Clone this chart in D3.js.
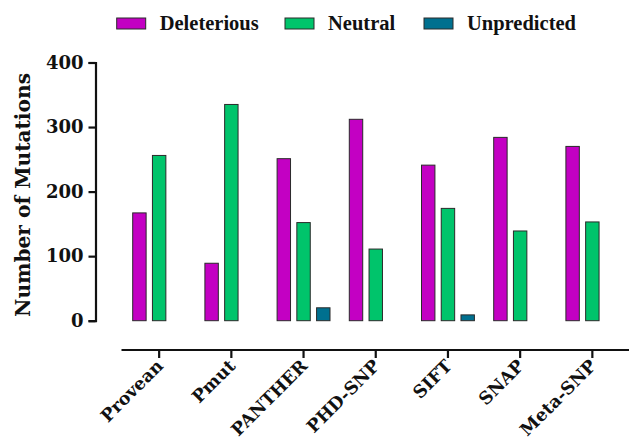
<!DOCTYPE html>
<html>
<head>
<meta charset="utf-8">
<script src="https://cdn.jsdelivr.net/npm/d3@7"></script>
<style>
  body { margin: 0; background: #fff; }
  svg text { font-family: "DejaVu Serif", serif; font-weight: bold; fill: #111; }
</style>
</head>
<body>
<div id="chart"></div>
<script>
var tools = ["Provean", "Pmut", "PANTHER", "PHD-SNP", "SIFT", "SNAP", "Meta-SNP"];
var series = ["Deleterious", "Neutral", "Unpredicted"];
var colors = ["#C300C3", "#00C46B", "#00708F"];

var deleterious = [167, 89, 251, 312, 241, 284, 270];
var neutral = [256, 335, 152, 111, 174, 139, 153];
var unpredicted = [0, 0, 20, 0, 9, 0, 0];

var yTicks = [0, 100, 200, 300, 400];

var width = 629, height = 442;

var svg = d3.select("#chart").append("svg")
    .attr("width", width)
    .attr("height", height);

var rows = tools.map(function(t, i){
    return {tool: t, values: [deleterious[i], neutral[i], unpredicted[i]]};
});

var y = d3.scaleLinear().domain([0, 400]).range([320.7, 62.5]);

var x0 = d3.scaleBand().domain(tools).range([132.7, 132.7 + 7 * 72.2]);
var x1 = d3.scaleBand().domain(series).range([0, 52.9]).paddingInner(0.32);

// bars
var groups = svg.selectAll("g.group")
    .data(rows)
    .enter().append("g")
    .attr("class", "group")
    .attr("transform", function(d){ return "translate(" + x0(d.tool) + ",0)"; });

groups.selectAll("rect")
    .data(function(d){ return d.values.map(function(v, j){ return {s: series[j], v: v, c: colors[j]}; }).filter(function(d){ return d.v > 0; }); })
    .enter().append("rect")
    .attr("x", function(d){ return x1(d.s); })
    .attr("y", function(d){ return y(d.v); })
    .attr("width", x1.bandwidth())
    .attr("height", function(d){ return y(0) - y(d.v); })
    .attr("fill", function(d){ return d.c; })
    .attr("stroke", "#2a2a2a")
    .attr("stroke-width", 1);

// y axis
var yAxis = svg.append("g")
    .attr("transform", "translate(95.5,0)")
    .call(d3.axisLeft(y).tickValues(yTicks).tickSize(7).tickPadding(5));
yAxis.select(".domain").attr("stroke", "#111").attr("stroke-width", 2.2);
yAxis.selectAll(".tick line").attr("stroke", "#111").attr("stroke-width", 2.2);
yAxis.selectAll(".tick text")
    .style("font-family", "DejaVu Serif, serif")
    .style("font-weight", "bold")
    .style("font-size", "18px")
    .attr("fill", "#111");

svg.append("text")
    .attr("transform", "translate(30," + 195 + ") rotate(-90)")
    .attr("text-anchor", "middle")
    .attr("textLength", 244)
    .attr("lengthAdjust", "spacingAndGlyphs")
    .style("font-size", "21px")
    .text("Number of Mutations");

// x axis (offset below the bars)
var xTick = function(t){ return x0(t) + x1("Neutral") + x1.bandwidth() / 2; };
var xAxis = svg.append("g").attr("transform", "translate(0,350)");
xAxis.append("line")
    .attr("x1", 121.5).attr("x2", width)
    .attr("stroke", "#111").attr("stroke-width", 2.2);
xAxis.selectAll("line.tick")
    .data(tools)
    .enter().append("line")
    .attr("class", "tick")
    .attr("x1", xTick).attr("x2", xTick)
    .attr("y1", 0).attr("y2", 8)
    .attr("stroke", "#111").attr("stroke-width", 2.2);
xAxis.selectAll("text")
    .data(tools)
    .enter().append("text")
    .attr("transform", function(t){ return "translate(" + (xTick(t) + 5) + ",17) rotate(-45)"; })
    .attr("text-anchor", "end")
    .style("font-size", "17.5px")
    .text(function(t){ return t; });

// legend
var legX = [116.7, 285, 424];
var legend = svg.selectAll("g.legend")
    .data(series)
    .enter().append("g")
    .attr("class", "legend")
    .attr("transform", function(d, i){ return "translate(" + legX[i] + ",0)"; });
legend.append("rect")
    .attr("x", 0).attr("y", 18)
    .attr("width", 29).attr("height", 11)
    .attr("fill", function(d, i){ return colors[i]; })
    .attr("stroke", "#2a2a2a").attr("stroke-width", 1);
legend.append("text")
    .attr("x", 43).attr("y", 30)
    .style("font-family", "Liberation Serif, Times New Roman, serif")
    .style("font-size", "20.5px")
    .text(function(d){ return d; });
</script>
</body>
</html>
